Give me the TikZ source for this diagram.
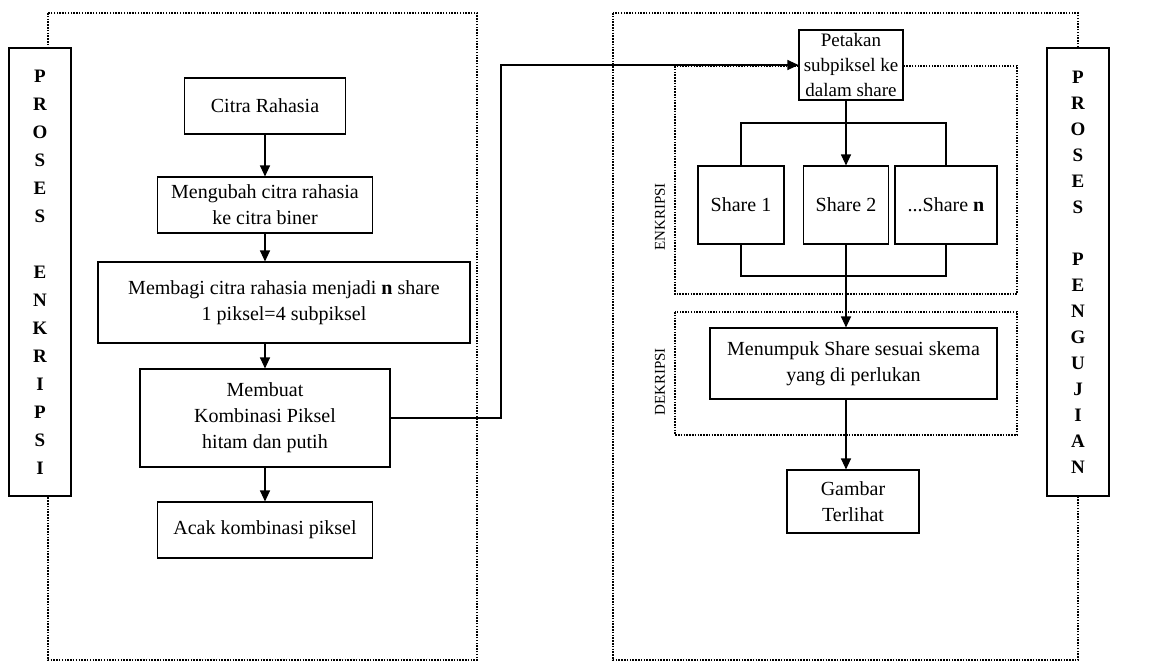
\documentclass[tikz,border=0pt]{standalone}
\usepackage{fontspec}
\setmainfont{Liberation Serif}
\usepackage{tikz}
\usetikzlibrary{arrows.meta, positioning, calc}

\tikzset{
  box/.style={draw, line width=1.1pt, fill=white, align=center, inner sep=0pt,
    font=\fontsize{20}{26}\selectfont},
  sidebox/.style={draw, line width=1.1pt, fill=white, align=center, inner sep=0pt,
    minimum width=62pt, minimum height=448pt},
  frame/.style={line width=1.2pt, dash pattern=on 1.5pt off 1.3pt},
  arr/.style={line width=1.1pt, -{Triangle[length=11pt,width=10pt]}},
  link/.style={line width=1.1pt},
}

\begin{document}
\begin{tikzpicture}[x=1pt, y=-1pt]
\useasboundingbox (0,0) rectangle (1173,662);

% ============= dotted frames =============
\draw[frame] (48,13) rectangle (477,660);
\draw[frame] (613,13) rectangle (1078,660);
% encryption and decryption groups on the right
\draw[frame] (675,66) rectangle (1017,294);
\draw[frame] (675,312) rectangle (1017,435);
\node[rotate=90, font=\fontsize{15}{17}\selectfont] (lblenk) at (660,217) {ENKRIPSI};
\node[rotate=90, font=\fontsize{15}{17}\selectfont] (lbldek) at (660,382) {DEKRIPSI};

% ============= side labels =============
\node[sidebox, font=\bfseries\fontsize{19}{28}\selectfont] (sideenk) at (40,272)
  {P\\R\\O\\S\\E\\S\\~\\E\\N\\K\\R\\I\\P\\S\\I};
\node[sidebox, font=\bfseries\fontsize{19}{26}\selectfont] (sideuji) at (1078,272)
  {P\\R\\O\\S\\E\\S\\~\\P\\E\\N\\G\\U\\J\\I\\A\\N};

% ============= LEFT: encryption steps =============
\node[box, minimum width=161pt, minimum height=56pt] (citra) at (265,106) {Citra Rahasia};
\node[box, minimum width=215pt, minimum height=56pt] (ubah) at (265,205)
  {Mengubah citra rahasia\\ke citra biner};
\node[box, minimum width=372pt, minimum height=81pt] (bagi) at (284,302.5)
  {Membagi citra rahasia menjadi \textbf{n} share\\1 piksel=4 subpiksel};
\node[box, minimum width=250pt, minimum height=98pt] (buat) at (265,418)
  {Membuat\\Kombinasi Piksel\\hitam dan putih};
\node[box, minimum width=215pt, minimum height=56pt] (acak) at (265,530) {Acak kombinasi piksel};

\draw[arr] (citra) -- (ubah);
\draw[arr] (ubah) -- (ubah |- bagi.north);
\draw[arr] (bagi.south -| buat) -- (buat);
\draw[arr] (buat) -- (acak);

% ============= RIGHT: mapping, shares, stacking =============
\node[box, minimum width=104pt, minimum height=70pt, font=\fontsize{19}{25}\selectfont]
  (petakan) at (851,65) {Petakan\\subpiksel ke\\dalam share};
\node[box, minimum width=86pt, minimum height=78pt] (share1) at (741,205) {Share 1};
\node[box, minimum width=85pt, minimum height=78pt] (share2) at (846,205) {Share 2};
\node[box, minimum width=102pt, minimum height=78pt] (sharen) at (946,205) {...Share \textbf{n}};
\node[box, minimum width=287pt, minimum height=71pt] (tumpuk) at (853.5,363.5)
  {Menumpuk Share sesuai skema\\yang di perlukan};
\node[box, minimum width=132pt, minimum height=63pt] (gambar) at (853,501.5)
  {Gambar\\Terlihat};

% from left column over to the mapping step
\coordinate (turn) at (501,418);
\draw[arr] (buat.east) -- (turn) |- (petakan.west);

% split into shares
\coordinate (split) at (846,123);
\draw[link] (share1.north) |- (split) -| (sharen.north);
\draw[arr] (petakan.south -| share2) -- (share2.north);

% merge shares
\coordinate (merge) at (846,276);
\draw[link] (share1.south) |- (merge) -| (sharen.south);
\draw[arr] (share2.south) -- (share2.south |- tumpuk.north);
\draw[arr] (tumpuk.south -| share2) -- (gambar.north -| share2);
\end{tikzpicture}
\end{document}
